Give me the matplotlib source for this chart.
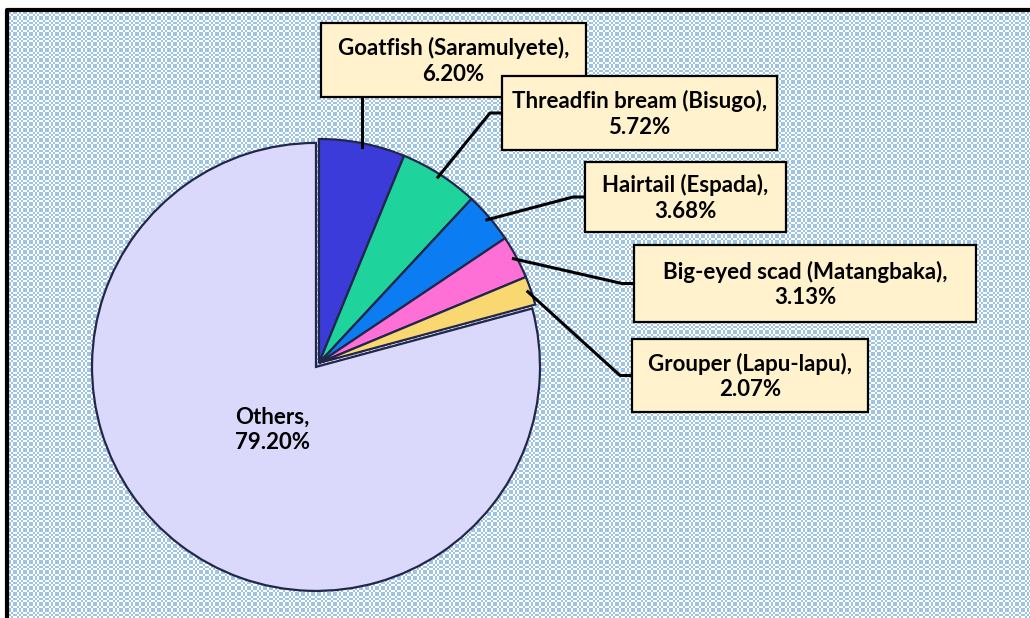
import numpy as np
import matplotlib
matplotlib.use('Agg')
import matplotlib.pyplot as plt
from matplotlib.patches import Rectangle

# slice data, clockwise from 12 o'clock
species = ['Goatfish (Saramulyete)', 'Threadfin bream (Bisugo)', 'Hairtail (Espada)',
           'Big-eyed scad (Matangbaka)', 'Grouper (Lapu-lapu)', 'Others']
shares = [6.20, 5.72, 3.68, 3.13, 2.07, 79.20]
colors = ['#3b3bd9', '#1fd39c', '#0b7cf2', '#ff70d6', '#f9d872', '#dad8fb']

W, H = 1030, 618
plt.rcParams['font.family'] = ['Lato', 'DejaVu Sans']

fig = plt.figure(figsize=(W / 100, H / 100), dpi=100)

# background pattern, placed pixel for pixel
tile = np.array([
    [1, 1, 0, 1, 1, 0, 1, 0],
    [1, 1, 0, 1, 1, 0, 1, 0],
    [0, 0, 1, 0, 0, 1, 0, 1],
    [1, 1, 0, 1, 1, 0, 1, 0],
    [1, 1, 0, 1, 1, 0, 1, 0],
    [0, 0, 1, 0, 0, 1, 0, 1],
    [1, 1, 0, 1, 1, 0, 1, 0],
    [0, 0, 1, 0, 0, 1, 0, 1],
])
tile = np.kron(tile, np.ones((2, 2), dtype=int))
pat = np.tile(tile, (H // 16 + 1, W // 16 + 1))[:H - 10, :W - 7]
img = np.ones(pat.shape + (3,))
img[pat == 1] = np.array([157, 195, 230]) / 255.0
fig.figimage(img, xo=7, yo=0, origin='upper')

# pie
cx, cy, r = 319, 363, 224
pax = fig.add_axes([(cx - r) / W, (H - cy - r) / H, 2 * r / W, 2 * r / H], zorder=1)
explode = [0, 0, 0, 0, 0, 0.022]
wedges, _ = pax.pie(shares, colors=colors, startangle=90, counterclock=False,
                    explode=explode,
                    wedgeprops=dict(edgecolor='#22264a', linewidth=1.6))
pax.set_xlim(-1, 1)
pax.set_ylim(-1, 1)
pax.set_aspect('equal')
pax.axis('off')

# labels, leader lines and frame, pixel coordinates
ov = fig.add_axes([0, 0, 1, 1], zorder=2)
ov.set_xlim(0, W)
ov.set_ylim(H, 0)
ov.axis('off')
ov.patch.set_alpha(0)
ov.plot([7, 7, W], [H, 10, 10], color='black', lw=3, solid_capstyle='butt')

boxes = [(321, 23, 586, 97), (502, 76, 777, 150), (585, 162, 786, 232),
         (634, 245, 976, 322), (632, 339, 868, 412)]
fs = 16
for i, (x0, y0, x1, y1) in enumerate(boxes):
    w = wedges[i]
    mid = np.radians((w.theta1 + w.theta2) / 2)
    px = cx + 0.985 * r * np.cos(mid)
    py = cy - 0.985 * r * np.sin(mid)
    if i == 0:
        ov.plot([px, px], [py, y1], color='black', lw=2.2, zorder=3)
    else:
        ym = (y0 + y1) / 2
        ov.plot([px, x0 - 12, x0], [py, ym, ym], color='black', lw=2.2, zorder=3)
    ov.add_patch(Rectangle((x0, y0), x1 - x0, y1 - y0, facecolor='#fff2cc',
                           edgecolor='black', lw=1.6, zorder=4 + i))
    ov.text((x0 + x1) / 2, (y0 + y1) / 2 + 1, '%s,\n%.2f%%' % (species[i], shares[i]),
            ha='center', va='center', fontsize=fs, fontweight='bold',
            linespacing=1.25, zorder=4 + i)

ov.text(272, 430, '%s,\n%.2f%%' % (species[5], shares[5]), ha='center', va='center',
        fontsize=fs, fontweight='bold', linespacing=1.25, zorder=3)

fig.savefig('out.png', dpi=100)
